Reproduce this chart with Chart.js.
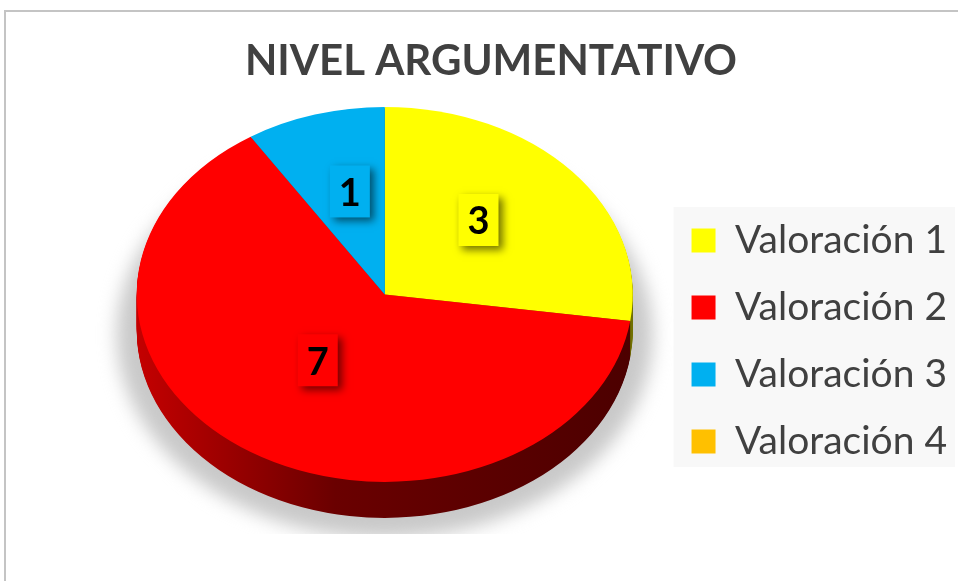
<!DOCTYPE html>
<html><head><meta charset="utf-8">
<script src="https://cdn.jsdelivr.net/npm/chart.js@4.4.1/dist/chart.umd.min.js"></script>
<style>html,body{margin:0;padding:0;background:#fff}#wrap{width:958px;height:581px;position:relative}</style>
</head><body><div id="wrap"><canvas id="c" width="958" height="581"></canvas></div>
<script>
const chartTitle = 'NIVEL ARGUMENTATIVO';
const categories = ['Valoración 1', 'Valoración 2', 'Valoración 3', 'Valoración 4'];
const values = [3, 7, 1, 0];
const sliceColors = ['#FFFF00', '#FF0000', '#00B0F0', '#FFC000'];
const sideStops = [
  ['#d6d600', '#9a9a00', '#707000'],
  ['#c40000', '#6a0000', '#4c0000'],
  ['#0092c8', '#00648a', '#004a66'],
  ['#cc9a00', '#8a6800', '#664d00']
];
const TILT = 0.756;
const DEPTH = 36;

function tilt(ctx, area, dy) {
  const p = area.top;
  ctx.translate(0, p + dy);
  ctx.scale(1, TILT);
  ctx.translate(0, -p);
}
function toScreenY(area, y) { return area.top + (y - area.top) * TILT; }

const frameAndLegendBg = {
  id: 'frameAndLegendBg',
  beforeDraw(chart) {
    const ctx = chart.ctx;
    ctx.save();
    ctx.strokeStyle = '#c4c4c4';
    ctx.lineWidth = 2;
    ctx.beginPath();
    ctx.moveTo(5, chart.height + 5);
    ctx.lineTo(5, 11);
    ctx.lineTo(chart.width + 5, 11);
    ctx.stroke();
    const hb = chart.legend.legendHitBoxes;
    if (hb && hb.length) {
      const first = hb[0], last = hb[hb.length - 1];
      const left = first.left - 18;
      const right = Math.min(chart.width - 3, Math.max(...hb.map(h => h.left + h.width)) + 12);
      const top = first.top - 14;
      const bottom = last.top + last.height + 6;
      ctx.fillStyle = '#f8f8f8';
      ctx.fillRect(left, top, right - left, bottom - top);
    }
    ctx.restore();
  },
  afterDraw(chart) {
    const ctx = chart.ctx;
    ctx.save();
    ctx.fillStyle = '#404040';
    ctx.font = 'bold 42px Lato';
    ctx.textAlign = 'center';
    ctx.textBaseline = 'alphabetic';
    ctx.fillText(chartTitle, 491, 75);
    ctx.restore();
  }
};

const pie3d = {
  id: 'pie3d',
  beforeDatasetsDraw(chart) {
    const ctx = chart.ctx, area = chart.chartArea;
    const arcs = chart.getDatasetMeta(0).data;
    const a0 = arcs[0];
    // soft grey shadow around the side wall, cut flat at the plot bottom
    const cy = toScreenY(area, a0.y);
    const ry = a0.outerRadius * TILT;
    ctx.save();
    ctx.beginPath();
    ctx.rect(0, 0, chart.width, area.bottom + 2);
    ctx.clip();
    ctx.filter = 'blur(9px)';
    ctx.fillStyle = '#c9c9c9';
    ctx.beginPath();
    ctx.ellipse(a0.x, cy + DEPTH + 4, a0.outerRadius + 20, ry + 16, 0, 0, Math.PI * 2);
    ctx.fill();
    ctx.restore();
    // side wall
    for (let d = DEPTH; d >= 1; d--) {
      ctx.save();
      tilt(ctx, area, d);
      arcs.forEach((arc, i) => {
        if (arc.endAngle - arc.startAngle <= 0) return;
        const g = ctx.createLinearGradient(arc.x - arc.outerRadius, 0, arc.x + arc.outerRadius, 0);
        g.addColorStop(0, sideStops[i][0]);
        g.addColorStop(0.4, sideStops[i][1]);
        g.addColorStop(1, sideStops[i][2]);
        ctx.beginPath();
        ctx.moveTo(arc.x, arc.y);
        ctx.arc(arc.x, arc.y, arc.outerRadius, arc.startAngle, arc.endAngle);
        ctx.closePath();
        ctx.fillStyle = g;
        ctx.fill();
      });
      ctx.restore();
    }
    ctx.save();
    tilt(ctx, area, 0);
  },
  afterDatasetsDraw(chart) {
    const ctx = chart.ctx, area = chart.chartArea;
    ctx.restore();
    const arcs = chart.getDatasetMeta(0).data;
    const ds = chart.data.datasets[0];
    ctx.save();
    ctx.font = 'bold 38px Lato';
    ctx.textAlign = 'center';
    ctx.textBaseline = 'middle';
    arcs.forEach((arc, i) => {
      const v = ds.data[i];
      if (!v) return;
      const mid = (arc.startAngle + arc.endAngle) / 2;
      const r = arc.outerRadius * 0.5;
      const x = arc.x + Math.cos(mid) * r;
      const y = toScreenY(area, arc.y + Math.sin(mid) * r) - 13;
      const txt = String(v);
      const w = ctx.measureText(txt).width + 18, h = 52;
      ctx.save();
      ctx.shadowColor = 'rgba(0,0,0,0.55)';
      ctx.shadowBlur = 8;
      ctx.shadowOffsetX = 4;
      ctx.shadowOffsetY = 4;
      ctx.fillStyle = sliceColors[i];
      ctx.fillRect(x - w / 2, y - h / 2, w, h);
      ctx.restore();
      ctx.fillStyle = '#000';
      ctx.fillText(txt, x, y + 2);
    });
    ctx.restore();
  }
};

new Chart(document.getElementById('c'), {
  type: 'pie',
  data: {
    labels: categories,
    datasets: [{
      data: values,
      backgroundColor: sliceColors,
      borderWidth: 0,
      radius: 248,
      clip: false
    }]
  },
  options: {
    responsive: false,
    animation: false,
    events: [],
    layout: { padding: { top: 150, bottom: 49, left: 106, right: 1 } },
    plugins: {
      title: { display: false },
      tooltip: { enabled: false },
      legend: {
        position: 'right',
        align: 'center',
        labels: {
          boxWidth: 24,
          boxHeight: 24,
          padding: 28,
          color: '#404040',
          font: { family: 'Lato', size: 39 }
        }
      }
    }
  },
  plugins: [frameAndLegendBg, pie3d]
});
</script>
</body></html>
